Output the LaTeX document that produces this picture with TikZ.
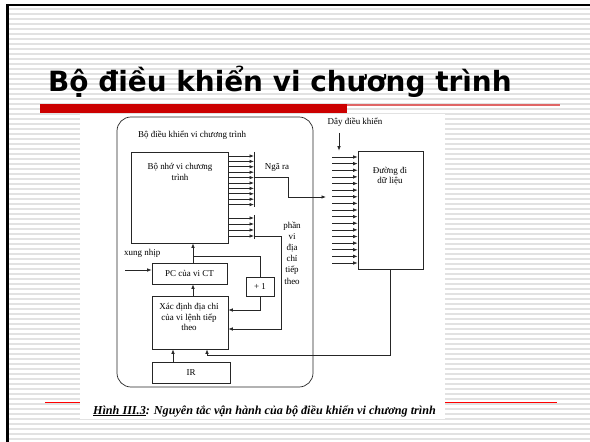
\documentclass[tikz,border=0pt]{standalone}
\usepackage{fontspec}
\setmainfont{Liberation Serif}
\newfontfamily\titlefont{DejaVu Sans}
\usetikzlibrary{arrows.meta}

\definecolor{slidered}{HTML}{CC0000}
\definecolor{lightred}{HTML}{E06666}
\definecolor{stripe}{HTML}{E2E2E2}

\begin{document}
\begin{tikzpicture}[x=1bp, y=-1bp,
    box/.style={draw=black!85, line width=0.7bp, inner sep=0pt, font=\fontsize{9}{10.5}\selectfont},
    arr/.style={draw=black!85, line width=0.7bp, -{Latex[length=4.5bp,width=3.5bp]}},
    wire/.style={draw=black!85, line width=0.7bp},
    txt/.style={font=\fontsize{9}{10.5}\selectfont, inner sep=0pt, align=center}]
    \useasboundingbox (0,0) rectangle (590,442);

    % 背景条纹
    \foreach \y in {9,14,...,439}
        \draw[stripe, line width=2bp] (9,\y) -- (590,\y);

    % 边框
    \draw[line width=2.5bp] (7.5,442) -- (7.5,5) -- (590,5);

    % 标题
    \node[anchor=base west, inner sep=0pt, font=\titlefont\bfseries\fontsize{28}{32}\selectfont] (title) at (48,92) {Bộ điều khiển vi chương trình};
    \fill[slidered] (40,104) rectangle (347,113);
    \draw[lightred, line width=1.5bp] (347,105) -- (560,105);

    % 图片区域
    \fill[white] (80,114) rectangle (445,419);
    \draw[red, line width=1bp] (45,402) -- (80,402) (445,402) -- (557,402);

    % 控制单元
    \node[box, rounded corners=14bp, minimum width=196bp, minimum height=270bp] (ctrl) at (215,252) {};
    \node[txt, anchor=west] (ctrltxt) at (138,135) {Bộ điều khiển vi chương trình};

    % 微程序存储器
    \node[box, minimum width=97bp, minimum height=91bp] (mem) at (179.5,197.5) {};
    \node[txt] (memtxt) at (180,172) {Bộ nhớ vi chương\\trình};

    % 输出线
    \coordinate (busA) at (254,152);
    \coordinate (busB) at (254,207);
    \coordinate (busC) at (254,215);
    \coordinate (busD) at (254,239);
    \draw[wire] (busA) -- (busB);
    \draw[wire] (busC) -- (busD);
    \foreach \i [evaluate=\i as \y using 156+5.4*\i] in {0,...,9}
        \draw[arr] (mem.east |- 0,\y) -- (busA |- 0,\y);
    \foreach \y in {218,224,230,236}
        \draw[arr] (mem.east |- 0,\y) -- (busC |- 0,\y);

    % 数据通路
    \node[box, minimum width=65bp, minimum height=118bp] (dp) at (390.5,210) {};
    \node[txt] (dptxt) at (390,176) {Đường đi\\dữ liệu};
    \coordinate (dpbus) at (332,157);
    \foreach \i [evaluate=\i as \y using 157+6.625*\i] in {0,...,16}
        \draw[arr] (dpbus |- 0,\y) -- (dp.west |- 0,\y);
    \node[txt] (ctltxt) at (355,122) {Dây điều khiển};
    \coordinate (ctlarr) at (339,133);
    \draw[arr] (ctlarr) -- (ctlarr |- dp.north);

    % 分支
    \node[txt] (ngaratxt) at (277,167) {Ngã ra};
    \coordinate (ngara) at (326,197);
    \draw[arr] (busA |- 0,177.6) -| (288,197) -- (ngara);
    \node[txt, font=\fontsize{9}{11.2}\selectfont] (nexttxt) at (292,253) {phần\\vi\\địa\\chỉ\\tiếp\\theo};

    % PC 与下一地址
    \node[box, minimum width=75bp, minimum height=21bp] (pc) at (189.5,273.5) {PC của vi CT};
    \node[box, minimum width=28bp, minimum height=19bp] (inc) at (260,286.5) {+ 1};
    \node[box, minimum width=76bp, minimum height=53bp] (nxt) at (190,322.5) {};
    \node[txt] (nxttxt) at (189,317) {Xác định địa chỉ\\của vi lệnh tiếp\\theo};
    \node[box, minimum width=78bp, minimum height=21bp] (ir) at (191,372.5) {IR};
    \node[txt, anchor=west] (clktxt) at (124,253) {xung nhịp};

    \coordinate (pcup) at ([xshift=3.5bp]pc.north);
    \coordinate (clk) at (125,270);
    \coordinate (fb) at (207,355);
    \draw[arr] (pcup) -- (pcup |- mem.south);
    \draw[wire] (pcup |- 0,256) -| (inc.north);
    \draw[arr] (nxt.north -| pcup) -- (pc.south -| pcup);
    \draw[arr] (inc.south) |- (nxt.east |- 0,310);
    \draw[arr] (busC |- 0,236) -| (281,329) -- (nxt.east |- 0,329);
    \draw[arr] (clk) -- (clk -| pc.west);
    \draw[arr] (ir.north -| 173,0) -- (nxt.south -| 173,0);
    \draw[arr] (dp.south) |- (fb) -- (fb |- nxt.south);

    % 图注
    \node[inner sep=0pt, font=\bfseries\itshape\fontsize{12.2}{14}\selectfont] (caption) at (264.5,411) {\underline{Hình III.3}: Nguyên tắc vận hành của bộ điều khiển vi chương trình};
\end{tikzpicture}
\end{document}
